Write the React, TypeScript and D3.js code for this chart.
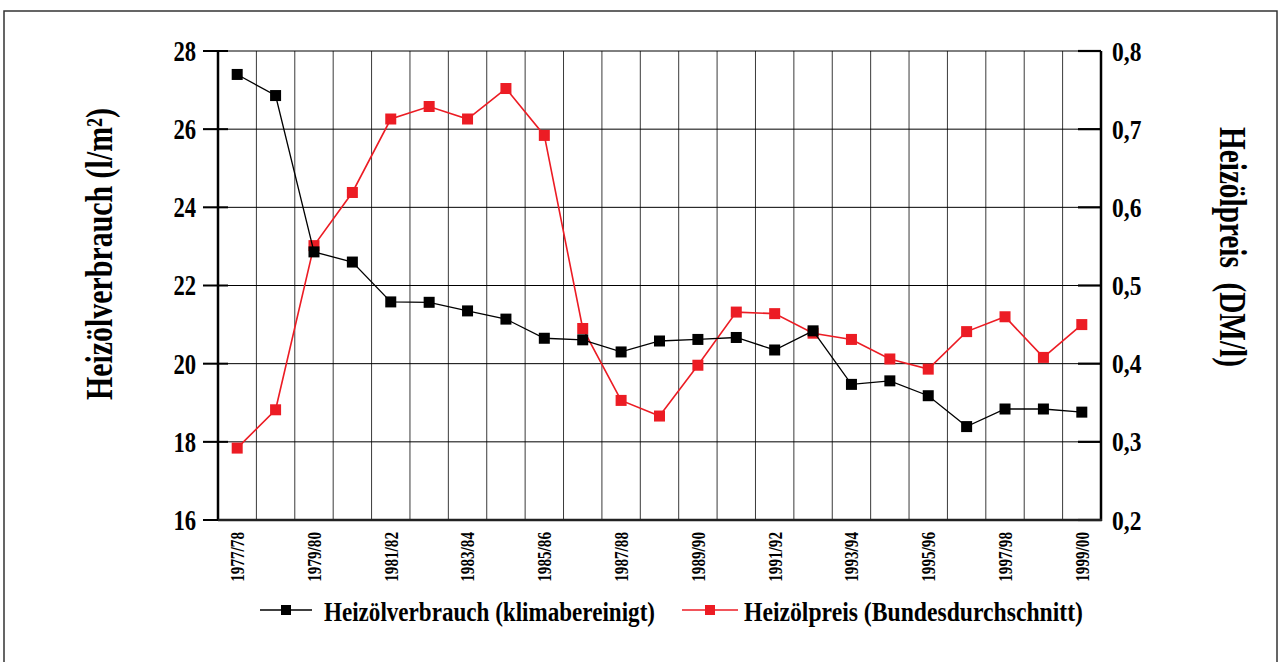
import React from "react";
import * as d3 from "d3";

const categories = [
  "1977/78", "1978/79", "1979/80", "1980/81", "1981/82", "1982/83", "1983/84", "1984/85",
  "1985/86", "1986/87", "1987/88", "1988/89", "1989/90", "1990/91", "1991/92", "1992/93",
  "1993/94", "1994/95", "1995/96", "1996/97", "1997/98", "1998/99", "1999/00",
];
const verbrauch = [
  27.4, 26.86, 22.86, 22.6, 21.58, 21.57, 21.35, 21.14, 20.65, 20.61, 20.3, 20.58,
  20.62, 20.67, 20.35, 20.84, 19.47, 19.56, 19.18, 18.39, 18.84, 18.84, 18.76,
];
const preis = [
  0.292, 0.341, 0.551, 0.619, 0.713, 0.729, 0.713, 0.752, 0.692, 0.445, 0.353, 0.333,
  0.398, 0.466, 0.464, 0.439, 0.431, 0.406, 0.393, 0.441, 0.46, 0.408, 0.45,
];
const leftTicks = [16, 18, 20, 22, 24, 26, 28];
const rightTicks = [0.2, 0.3, 0.4, 0.5, 0.6, 0.7, 0.8];
const xLabels = categories.filter((_, i) => i % 2 === 0);

const W = 1280;
const H = 662;
const L = 218;
const R = 1101;
const T = 51;
const B = 520;
const FONT = "'Liberation Serif', 'DejaVu Serif', serif";
const RED = "#ec1c24";

export default function App() {
  const x = d3.scaleBand<string>().domain(categories).range([L, R]).padding(0);
  const bw = x.bandwidth();
  const cx = (c: string) => (x(c) as number) + bw / 2;
  const yL = d3.scaleLinear().domain([16, 28]).range([B, T]);
  const yR = d3.scaleLinear().domain([0.2, 0.8]).range([B, T]);

  const lineV = d3
    .line<number>()
    .x((_, i) => cx(categories[i]))
    .y((d) => yL(d));
  const lineP = d3
    .line<number>()
    .x((_, i) => cx(categories[i]))
    .y((d) => yR(d));

  const ms = 11;

  return (
    <div style={{ position: "absolute", left: 0, top: 0 }}>
      <svg width={W} height={H} style={{ display: "block", background: "#fff" }} fontFamily={FONT}>
        <rect x={4} y={11} width={1273} height={700} fill="none" stroke="#333" strokeWidth={1.5} />

        {/* vertical grid */}
        {categories.slice(1).map((c) => (
          <line key={c} x1={x(c)} x2={x(c)} y1={T} y2={B} stroke="#3a3a3a" strokeWidth={1} />
        ))}
        {/* horizontal grid */}
        {leftTicks.map((t) => (
          <line key={t} x1={203} x2={R} y1={yL(t)} y2={yL(t)} stroke="#000" strokeWidth={1} />
        ))}
        {/* left ticks */}
        {leftTicks.map((t) => (
          <line key={"lt" + t} x1={203} x2={228} y1={yL(t)} y2={yL(t)} stroke="#000" strokeWidth={2} />
        ))}
        {/* right ticks */}
        {rightTicks.map((t) => (
          <line key={"rt" + t} x1={1078} x2={R} y1={yR(t)} y2={yR(t)} stroke="#000" strokeWidth={2.2} />
        ))}
        {/* axes */}
        <line x1={L} x2={L} y1={T} y2={B + 1} stroke="#000" strokeWidth={2.5} />
        <line x1={R} x2={R} y1={T} y2={B + 1} stroke="#000" strokeWidth={2.5} />
        <line x1={L} x2={R + 1} y1={B} y2={B} stroke="#222" strokeWidth={2.5} />

        {/* left tick labels */}
        {leftTicks.map((t) => (
          <text
            key={"ll" + t}
            transform={`translate(196,${yL(t)}) scale(0.78,1)`}
            dy="0.34em"
            textAnchor="end"
            fontSize={29}
            fontWeight="bold"
          >
            {t}
          </text>
        ))}
        {/* right tick labels */}
        {rightTicks.map((t) => (
          <text
            key={"rl" + t}
            transform={`translate(1112,${yR(t)}) scale(0.84,1)`}
            dy="0.34em"
            textAnchor="start"
            fontSize={28}
            fontWeight="bold"
          >
            {d3.format(".1f")(t).replace(".", ",")}
          </text>
        ))}
        {/* x labels */}
        {xLabels.map((c) => (
          <text
            key={"xl" + c}
            transform={`translate(${cx(c)},532) rotate(-90) scale(0.8,1)`}
            dy="0.36em"
            textAnchor="end"
            fontSize={19}
            fontWeight="bold"
          >
            {c}
          </text>
        ))}

        {/* axis titles */}
        <text
          transform={`translate(112,254) rotate(-90)`}
          textAnchor="middle"
          fontSize={38}
          fontWeight="bold"
          textLength={292}
          lengthAdjust="spacingAndGlyphs"
        >
          Heizölverbrauch (l/m²)
        </text>
        <text
          transform={`translate(1220,247) rotate(90)`}
          textAnchor="middle"
          fontSize={38}
          fontWeight="bold"
          textLength={240}
          lengthAdjust="spacingAndGlyphs"
          style={{ whiteSpace: "pre" }}
        >
          {"Heizölpreis  (DM/l)"}
        </text>

        {/* red series */}
        <path d={lineP(preis) || ""} fill="none" stroke={RED} strokeWidth={1.6} />
        {preis.map((v, i) => (
          <rect
            key={"p" + i}
            x={cx(categories[i]) - ms / 2}
            y={yR(v) - ms / 2}
            width={ms}
            height={ms}
            fill={RED}
          />
        ))}
        {/* black series */}
        <path d={lineV(verbrauch) || ""} fill="none" stroke="#000" strokeWidth={1.3} />
        {verbrauch.map((v, i) => (
          <rect
            key={"v" + i}
            x={cx(categories[i]) - ms / 2}
            y={yL(v) - ms / 2}
            width={ms}
            height={ms}
            fill="#000"
          />
        ))}

        {/* legend */}
        <line x1={260} x2={312} y1={610} y2={610} stroke="#000" strokeWidth={1.3} />
        <rect x={286 - 5} y={610 - 5} width={10} height={10} fill="#000" />
        <text
          x={324}
          y={621}
          fontSize={28}
          fontWeight="bold"
          textLength={331}
          lengthAdjust="spacingAndGlyphs"
        >
          Heizölverbrauch (klimabereinigt)
        </text>
        <line x1={682} x2={738} y1={610} y2={610} stroke={RED} strokeWidth={1.6} />
        <rect x={710 - 5} y={610 - 5} width={10} height={10} fill={RED} />
        <text
          x={744}
          y={621}
          fontSize={28}
          fontWeight="bold"
          textLength={339}
          lengthAdjust="spacingAndGlyphs"
        >
          Heizölpreis (Bundesdurchschnitt)
        </text>
      </svg>
    </div>
  );
}
